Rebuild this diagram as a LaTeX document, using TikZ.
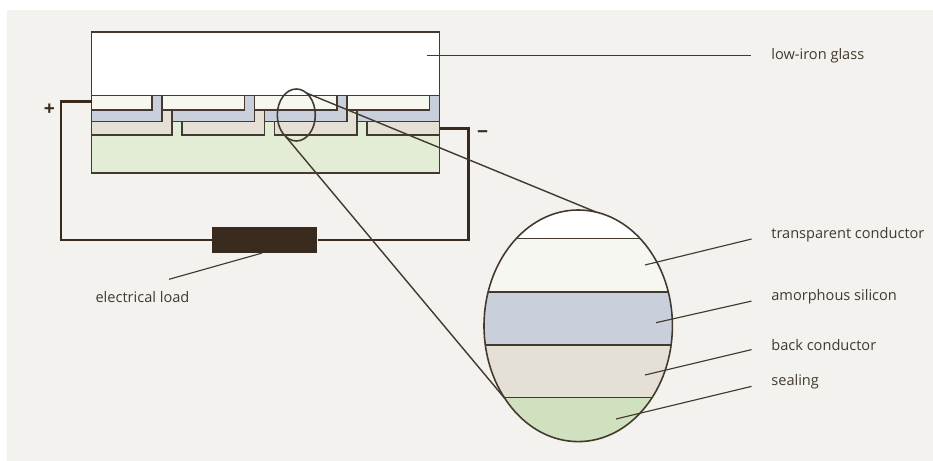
\documentclass[tikz,border=0pt]{standalone}
\usepackage{fontspec}
\setmainfont{Open Sans}
\usetikzlibrary{positioning,calc}

\definecolor{paper}{HTML}{F3F2EE}
\definecolor{ink}{HTML}{43392E}
\definecolor{wire}{HTML}{382A1C}
\definecolor{tcoc}{HTML}{F7F7F2}
\definecolor{sic}{HTML}{C9D0DC}
\definecolor{backc}{HTML}{E4E0D6}
\definecolor{sealc}{HTML}{E3EDD6}
\definecolor{sealzoom}{HTML}{CFE1BE}

\begin{document}
\begin{tikzpicture}[
    cell/.style={draw=ink, line width=0.8pt},
    wiring/.style={draw=wire, line width=1.4pt},
    lead/.style={draw=ink, line width=0.65pt},
    ring/.style={draw=ink, line width=0.9pt},
    lbl/.style={font=\fontsize{8.3}{10}\selectfont, text=ink, inner sep=0pt, anchor=west},
    sign/.style={font=\fontsize{11}{13}\selectfont\bfseries, text=wire},
  ]
  % page and background
  \fill[white] (0,0) rectangle (18.66,9.22);
  \fill[paper] (0.14,0) rectangle (18.66,9.02);

  % sealing under the cells
  \draw[cell, fill=sealc] (1.83,6.786) rectangle (8.79,5.756);
  % four cells in series: back conductor, silicon, front conductor
  \foreach \i in {0,...,3} {
    \pgfmathsetmacro\r{3.04+1.85*\i}
    \pgfmathsetmacro\p{\r-1.85}
    \pgfmathsetmacro\ta{\i==0 ? 1.83 : \p+0.2}
    \pgfmathsetmacro\sa{\i==0 ? 1.83 : \p+0.4}
    \pgfmathsetmacro\ba{\i==0 ? 1.83 : \p+0.6}
    \ifnum\i<3
      \draw[cell, fill=backc] (\ba,6.786) -- (\r+0.2,6.786) -- (\r+0.2,7.02)
        -- (\r+0.4,7.02) -- (\r+0.4,6.52) -- (\ba,6.52) -- cycle;
    \else
      \draw[cell, fill=backc] (\ba,6.786) rectangle (8.79,6.52);
    \fi
    \draw[cell, fill=sic] (\sa,7.02) -- (\r,7.02) -- (\r,7.306)
      -- (\r+0.2,7.306) -- (\r+0.2,6.786) -- (\sa,6.786) -- cycle;
    \draw[cell, fill=tcoc] (\ta,7.306) rectangle (\r,7.02);
  }
  % low-iron glass
  \draw[cell, fill=white] (1.83,8.58) rectangle (8.79,7.306);

  % external circuit
  \node[fill=wire, minimum width=2.1cm, minimum height=0.52cm, inner sep=0pt] (load) at (5.296,4.424) {};
  \coordinate (plus) at (1.83,7.186);
  \coordinate (minus) at (8.79,6.654);
  \draw[wiring] (plus) -| (1.22,4.424) -- (load.west);
  \draw[wiring] (load.east) -- (9.366,4.424) |- (minus);
  \node[sign] (pos) at (0.986,7.034) {+};
  \node[sign] (neg) at (9.654,6.534) {−};

  % magnified spot
  \coordinate (spot) at (5.926,6.92);
  \coordinate (lens) at (11.564,2.704);
  \draw[ring] (spot) ellipse [x radius=0.38, y radius=0.52];
  \begin{scope}
    \clip (lens) ellipse [x radius=1.884, y radius=2.316];
    \fill[white] (9.6,4.454) rectangle (13.5,5.1);
    \fill[tcoc] (9.6,3.38) rectangle (13.5,4.454);
    \fill[sic] (9.6,2.32) rectangle (13.5,3.38);
    \fill[backc] (9.6,1.266) rectangle (13.5,2.32);
    \fill[sealzoom] (9.6,0.3) rectangle (13.5,1.266);
    \foreach \y in {4.454,3.38,2.32,1.266}
      \draw[cell] (9.6,\y) -- (13.5,\y);
  \end{scope}
  \draw[ring] (lens) ellipse [x radius=1.884, y radius=2.316];
  \draw[lead, line width=0.8pt] ($(spot)+(58:0.38 and 0.52)$) -- ($(lens)+(79:1.884 and 2.316)$);
  \draw[lead, line width=0.8pt] ($(spot)+(236:0.38 and 0.52)$) -- ($(lens)+(218.9:1.884 and 2.316)$);

  % labels
  \coordinate (glasspt) at (8.534,8.106);
  \coordinate (tcopt) at (12.9,3.92);
  \coordinate (sipt) at (13.12,2.766);
  \coordinate (backpt) at (12.9,1.72);
  \coordinate (sealpt) at (12.32,0.84);
  \coordinate (loadtip) at (3.38,3.634);
  \node[lbl] (glass) at (15.42,8.106) {low-iron glass};
  \node[lbl] (tco) at (15.42,4.534) {transparent conductor};
  \node[lbl] (asi) at (15.42,3.286) {amorphous silicon};
  \node[lbl] (back) at (15.42,2.32) {back conductor};
  \node[lbl] (seal) at (15.42,1.586) {sealing};
  \node[lbl, anchor=center] (eload) at (2.85,3.274) {electrical load};
  \draw[lead, shorten >=0.4cm] (glasspt) -- (glass.west);
  \draw[lead, shorten >=0.4cm] (tcopt) -- (tco.west);
  \draw[lead, shorten >=0.4cm] (sipt) -- (asi.west);
  \draw[lead, shorten >=0.4cm] (backpt) -- (back.west);
  \draw[lead, shorten >=0.4cm] (sealpt) -- (seal.west);
  \draw[lead] ([xshift=-0.06cm]load.south) -- (loadtip);
\end{tikzpicture}
\end{document}
